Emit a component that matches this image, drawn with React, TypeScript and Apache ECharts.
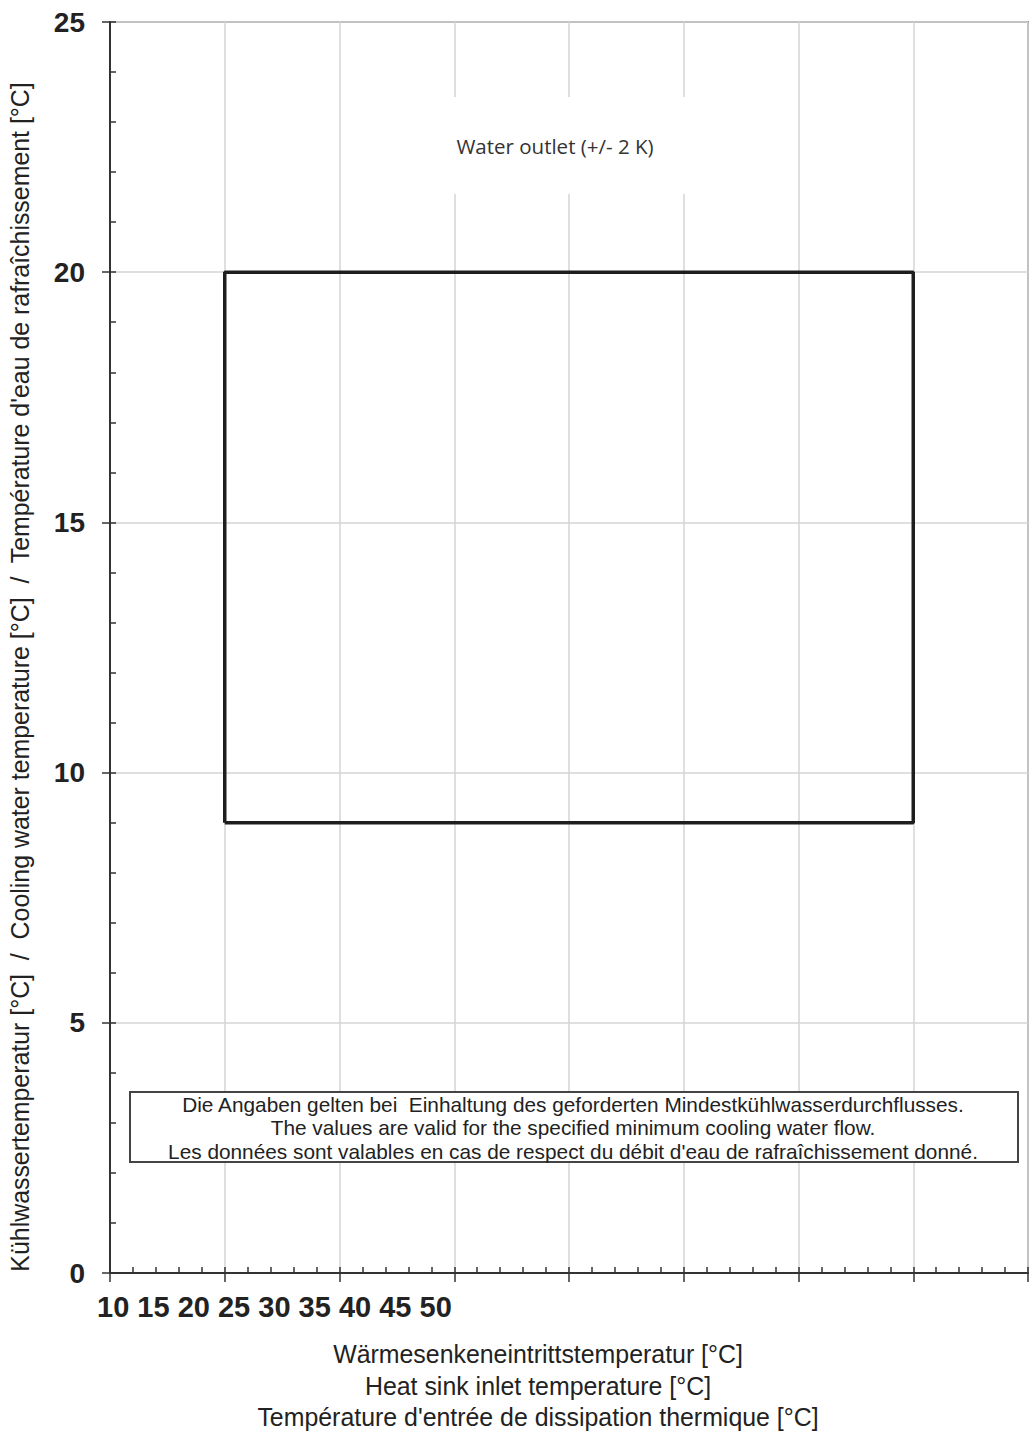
import React, { useEffect, useRef } from "react";
import * as echarts from "echarts";

const xTickLabels = ["10", "15", "20", "25", "30", "35", "40", "45", "50"];
const xMin = 10;
const xMax = 50;
const yMin = 0;
const yMax = 25;
const envelopeX = [15, 15, 45, 45, 15];
const envelopeY = [9, 20, 20, 9, 9];
const yAxisTitle = "Kühlwassertemperatur [°C]  /  Cooling water temperature [°C]  /  Température d'eau de rafraîchissement [°C]";
const xAxisTitle = [
  "Wärmesenkeneintrittstemperatur [°C]",
  "Heat sink inlet temperature [°C]",
  "Température d'entrée de dissipation thermique [°C]",
];
const noteLines = [
  "Die Angaben gelten bei  Einhaltung des geforderten Mindestkühlwasserdurchflusses.",
  "The values are valid for the specified minimum cooling water flow.",
  "Les données sont valables en cas de respect du débit d'eau de rafraîchissement donné.",
];
const seriesLabel = "Water outlet (+/- 2 K)";

const FONT = "'Liberation Sans', Arial, sans-serif";

export default function App() {
  const ref = useRef<HTMLDivElement>(null);
  useEffect(() => {
    if (!ref.current) return;
    const chart = echarts.init(ref.current, undefined, { renderer: "svg" });
    const data = envelopeX.map((x, i) => [x, envelopeY[i]]);
    chart.setOption({
      animation: false,
      backgroundColor: "#fff",
      grid: {
        left: 110,
        top: 22,
        right: 6,
        bottom: 164,
        show: true,
        borderColor: "#8a8a8a",
        borderWidth: 2,
      },
      xAxis: [
        {
          type: "value",
          min: xMin,
          max: xMax,
          interval: 5,
          axisLine: { show: true, onZero: false, lineStyle: { color: "#333", width: 2 } },
          axisTick: { show: true, inside: false, length: 9, lineStyle: { color: "#333", width: 1.5 } },
          axisLabel: { show: false },
          splitLine: { show: true, lineStyle: { color: "#d4d4d4", width: 1.5 } },
        },
        {
          type: "value",
          min: xMin,
          max: xMax,
          interval: 1,
          position: "bottom",
          axisLine: { show: false },
          axisTick: { show: true, inside: true, length: 6, lineStyle: { color: "#333", width: 1.5 } },
          axisLabel: { show: false },
          splitLine: { show: false },
        },
      ],
      yAxis: [
        {
          type: "value",
          min: yMin,
          max: yMax,
          interval: 5,
          axisLine: { show: true, onZero: false, lineStyle: { color: "#333", width: 2 } },
          axisTick: { show: true, inside: false, length: 8, lineStyle: { color: "#333", width: 1.5 } },
          axisLabel: {
            show: true,
            margin: 25,
            color: "#222",
            fontSize: 28,
            fontWeight: "bold",
            fontFamily: FONT,
          },
          splitLine: { show: true, lineStyle: { color: "#d4d4d4", width: 1.5 } },
        },
        {
          type: "value",
          min: yMin,
          max: yMax,
          interval: 1,
          position: "left",
          axisLine: { show: false },
          axisTick: { show: true, inside: true, length: 6, lineStyle: { color: "#333", width: 1.5 } },
          axisLabel: { show: false },
          splitLine: { show: false },
        },
      ],
      series: [
        {
          type: "line",
          name: seriesLabel,
          xAxisIndex: 0,
          yAxisIndex: 0,
          data,
          symbol: "none",
          lineStyle: { color: "#1e1e1e", width: 3.5 },
          z: 5,
        },
      ],
      graphic: [
        {
          type: "rect",
          shape: { x: 395, y: 97, width: 345, height: 97 },
          style: { fill: "#fff" },
          z: 10,
        },
        {
          type: "text",
          x: 555,
          y: 146,
          style: {
            text: seriesLabel,
            fontSize: 20.5,
            fontFamily: "'Open Sans', sans-serif",
            fill: "#333",
            textAlign: "center",
            textVerticalAlign: "middle",
          },
          z: 11,
        },
        {
          type: "rect",
          shape: { x: 130, y: 1092, width: 888, height: 70 },
          style: { fill: "#fff", stroke: "#444", lineWidth: 2 },
          z: 10,
        },
        ...noteLines.map((t, i) => ({
          type: "text",
          x: 573,
          y: 1104 + i * 23.5,
          style: {
            text: t,
            fontSize: 20.8,
            fontFamily: FONT,
            fill: "#222",
            textAlign: "center",
            textVerticalAlign: "middle",
          },
          z: 11,
        })),
        {
          type: "text",
          x: 97,
          y: 1307,
          style: {
            text: xTickLabels.join(" "),
            fontSize: 29,
            fontWeight: "bold",
            fontFamily: FONT,
            fill: "#222",
            textAlign: "left",
            textVerticalAlign: "middle",
          },
        },
        ...xAxisTitle.map((t, i) => ({
          type: "text",
          x: 538,
          y: 1354 + i * 31.5,
          style: {
            text: t,
            fontSize: 24.9,
            fontFamily: FONT,
            fill: "#222",
            textAlign: "center",
            textVerticalAlign: "middle",
          },
        })),
        {
          type: "text",
          x: 20,
          y: 677,
          rotation: Math.PI / 2,
          style: {
            text: yAxisTitle,
            fontSize: 24.9,
            fontFamily: FONT,
            fill: "#222",
            textAlign: "center",
            textVerticalAlign: "middle",
          },
        },
      ],
    });
    return () => chart.dispose();
  }, []);
  return (
    <div
      ref={ref}
      style={{ position: "absolute", left: 0, top: 0, width: 1034, height: 1437 }}
    />
  );
}
